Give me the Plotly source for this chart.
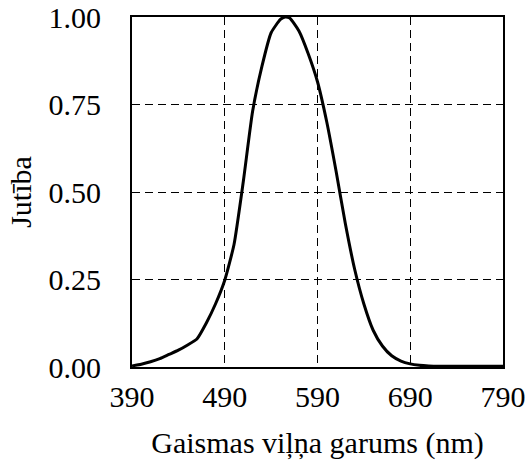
import plotly.graph_objects as go

# Relative spectral sensitivity of the sensor
wavelength_nm = [390, 400, 410, 420, 430, 440, 450, 460, 470, 480, 490, 500,
                 510, 520, 530, 540, 550, 555, 560, 570, 580, 590, 600, 610,
                 620, 630, 640, 650, 660, 670, 680, 690, 700, 710, 720, 740,
                 760, 790]
sensitivity = [0.003, 0.008, 0.015, 0.024, 0.036, 0.048, 0.063, 0.080, 0.125,
               0.180, 0.248, 0.350, 0.530, 0.730, 0.858, 0.955, 0.993, 1.000,
               0.997, 0.960, 0.895, 0.815, 0.700, 0.560, 0.410, 0.280, 0.180,
               0.105, 0.060, 0.032, 0.017, 0.009, 0.005, 0.003, 0.002, 0.002,
               0.002, 0.002]

x_ticks = [390, 490, 590, 690, 790]
y_ticks = [0.0, 0.25, 0.5, 0.75, 1.0]

FONT = "Liberation Serif, Times New Roman, serif"
SIZE = 30

fig = go.Figure(
    go.Scatter(
        x=wavelength_nm,
        y=sensitivity,
        mode="lines",
        line=dict(color="black", width=3, shape="spline", smoothing=0.5),
        showlegend=False,
    )
)

axis_common = dict(
    showline=True,
    linecolor="black",
    linewidth=2,
    mirror=True,
    showgrid=True,
    gridcolor="black",
    gridwidth=1.4,
    griddash="8px,5px",
    zeroline=False,
    ticks="",
    automargin=False,
    tickfont=dict(family=FONT, size=SIZE, color="black"),
)

fig.update_xaxes(
    range=[390, 790],
    tickvals=x_ticks,
    ticktext=[str(v) for v in x_ticks],
    ticklabelstandoff=2,
    title=dict(text="Gaismas viļņa garums (nm)",
               font=dict(family=FONT, size=SIZE, color="black"),
               standoff=20),
    **axis_common,
)
fig.update_yaxes(
    range=[0, 1],
    tickvals=y_ticks,
    ticktext=[f"{v:.2f}" for v in y_ticks],
    ticklabelstandoff=23,
    title=dict(text="Jutība",
               font=dict(family=FONT, size=SIZE, color="black"),
               standoff=8),
    **axis_common,
)

fig.update_layout(
    width=529,
    height=468,
    margin=dict(l=132, r=26, t=17, b=101),
    paper_bgcolor="white",
    plot_bgcolor="white",
)

fig.write_html("out.html")
